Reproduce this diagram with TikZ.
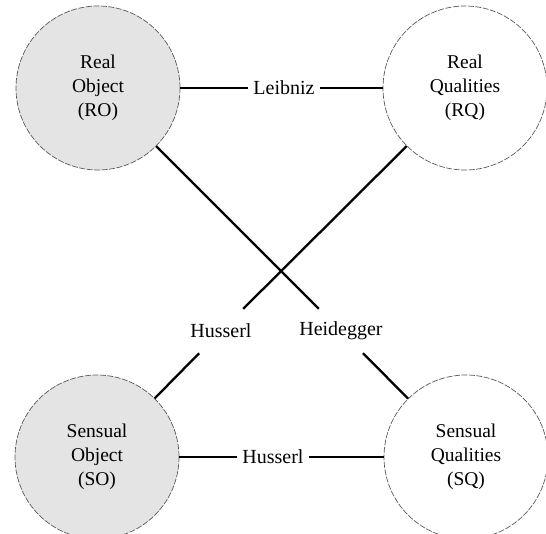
\documentclass[tikz,border=0pt]{standalone}
\usepackage{fontspec}
\setmainfont{Liberation Serif}
\definecolor{circfill}{RGB}{228,228,228}
\definecolor{circline}{RGB}{90,90,90}
\begin{document}
\begin{tikzpicture}[x=1pt,y=-1pt,
  obj/.style={circle, minimum size=164pt, inner sep=0pt, draw=circline, line width=0.7pt,
    dash pattern=on 6pt off 1.5pt, align=center,
    font=\fontsize{19.5}{24}\selectfont},
  filled/.style={fill=circfill},
  lbl/.style={inner xsep=5pt, inner ysep=0pt, font=\fontsize{20}{22}\selectfont},
  dlbl/.style={lbl, minimum height=44pt},
  conn/.style={line width=2.3pt, black}
]
\useasboundingbox (0,0) rectangle (546,533);
\node[obj,filled] (RO) at (98,88) {Real\\Object\\(RO)};
\node[obj] (RQ) at (465,88) {Real\\Qualities\\(RQ)};
\node[obj,filled] (SO) at (97,457) {Sensual\\Object\\(SO)};
\node[obj] (SQ) at (466,457) {Sensual\\Qualities\\(SQ)};
\node[lbl] (leib) at (284,88) {Leibniz};
\node[lbl] (hus2) at (273,457) {Husserl};
\node[dlbl] (hus1) at (221,331) {Husserl};
\node[dlbl] (heid) at (341,331) {Heidegger};
\draw[conn] (RO) -- (leib);
\draw[conn] (leib) -- (RQ);
\draw[conn] (SO) -- (hus2);
\draw[conn] (hus2) -- (SQ);
\draw[conn] (RQ) -- (hus1);
\draw[conn] (hus1) -- (SO);
\draw[conn] (RO) -- (heid);
\draw[conn] (heid) -- (SQ);
\end{tikzpicture}
\end{document}
